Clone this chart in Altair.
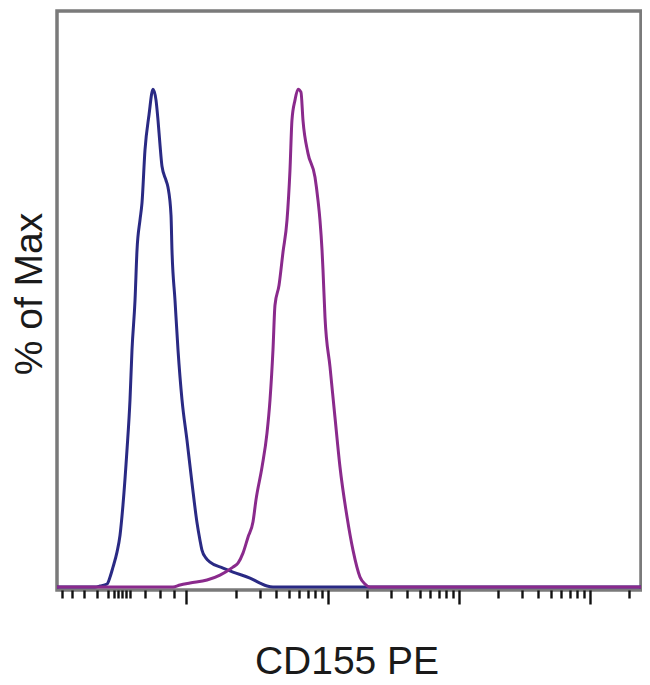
import altair as alt
import pandas as pd

# Display channel (0-1024) and % of Max
blue_x = [0, 66.6, 75.4, 87.7, 93.0, 98.2, 105.2, 110.5, 115.7, 122.7,
          128.0, 131.5, 136.8, 140.3, 145.5, 149.0, 154.3, 161.3, 168.3, 173.6,
          177.1, 180.6, 184.1, 191.1, 194.6, 199.9, 201.6, 206.9, 212.2, 219.2,
          227.9, 236.7, 245.5, 250.7, 254.2, 261.3, 268.3, 291.1, 308.6, 338.4,
          355.9, 368.2, 378.7, 1024]
blue_y = [0, 0, 0.2, 0.6, 2.0, 4.0, 7.0, 10.4, 16.5, 27.5,
          37.6, 47.6, 57.6, 67.7, 73.7, 77.1, 87.8, 94.8, 100, 97.8,
          93.8, 88.8, 84.5, 81.7, 80.3, 74.7, 67.7, 57.6, 47.6, 37.6,
          29.5, 20.9, 12.9, 9.4, 7.4, 5.8, 5.0, 3.8, 3.0, 1.8,
          0.8, 0.2, 0, 0]

mag_x = [0, 203.4, 215.7, 233.2, 263.0, 285.8, 308.6, 317.4, 326.1, 334.9,
         343.7, 348.9, 359.5, 368.2, 373.5, 378.7, 382.2, 389.3, 396.3, 403.3,
         408.5, 412.0, 417.3, 422.6, 427.8, 431.3, 440.1, 452.4, 457.6, 461.1,
         464.7, 466.4, 469.9, 478.7, 487.4, 496.2, 508.5, 519.0, 531.3, 540.0,
         548.8, 1024]
mag_y = [0, 0, 0.4, 0.8, 1.4, 2.4, 4.0, 4.8, 6.8, 10.0,
         13.1, 17.5, 24.1, 30.9, 37.6, 47.6, 56.6, 60.6, 67.3, 73.7,
         83.7, 93.8, 97.8, 100, 99.4, 93.8, 87.1, 82.3, 77.7, 73.7,
         67.7, 63.7, 54.2, 44.2, 34.1, 24.1, 14.1, 7.4, 2.0, 0.6,
         0, 0]

# Axis tick positions (display channel units), no labels
major_ticks = [226.2, 475.2, 704.9, 934.6]
minor_ticks = [8.8, 26.3, 47.3, 70.1, 89.4, 99.9, 106.9, 114.0, 121.0, 128.0,
               154.3, 180.6, 205.1,
               314.6, 355.1, 383.8, 406.1, 424.3, 439.6, 452.9, 464.7,
               544.3, 584.8, 613.5, 635.8, 654.0, 669.3, 682.6, 694.4,
               774.0, 814.5, 843.2, 865.5, 883.7, 899.0, 912.3, 924.0,
               1003.6]
all_ticks = sorted(major_ticks + minor_ticks)

df = pd.concat([
    pd.DataFrame({"x": blue_x, "y": blue_y, "series": "blue"}),
    pd.DataFrame({"x": mag_x, "y": mag_y, "series": "magenta"}),
])

major_test = "indexof([" + ",".join(str(v) for v in major_ticks) + "], datum.value) >= 0"

x_enc = alt.X(
    "x:Q",
    scale=alt.Scale(domain=[0, 1024], nice=False, zero=False),
    axis=alt.Axis(
        title="CD155 PE",
        values=all_ticks,
        labels=False,
        domain=False,
        grid=False,
        ticks=True,
        tickColor="#111111",
        tickWidth=2.4,
        tickSize={"condition": {"test": major_test, "value": 14}, "value": 8},
        titleFont="Liberation Sans",
        titleFontSize=39,
        titleFontWeight="normal",
        titleColor="#1a1a1a",
        titleX=289.5,
        titleY=83,
        titleAlign="center",
        titleBaseline="alphabetic",
    ),
)
y_enc = alt.Y(
    "y:Q",
    scale=alt.Scale(domain=[-0.6, 115.7], nice=False, zero=False),
    axis=alt.Axis(
        title="% of Max",
        labels=False,
        ticks=False,
        domain=False,
        grid=False,
        titleFont="Liberation Sans",
        titleFontSize=39,
        titleFontWeight="normal",
        titleColor="#1a1a1a",
        titleX=-16,
        titleY=282.5,
        titleAngle=270,
        titleAlign="center",
        titleBaseline="alphabetic",
    ),
)

base = alt.Chart(df).encode(x=x_enc, y=y_enc)

blue = base.transform_filter(alt.datum.series == "blue").mark_line(
    color="#2a2a84", strokeWidth=3, interpolate="monotone"
)
magenta = base.transform_filter(alt.datum.series == "magenta").mark_line(
    color="#8a2a8c", strokeWidth=3, interpolate="monotone"
)

frame = alt.ViewBackground(stroke="#7a7a7a", strokeWidth=3.5, strokeOpacity=1, fill="white")

chart = (
    alt.layer(blue, magenta)
    .properties(
        width=584,
        height=579,
        view=frame,
        autosize=alt.AutoSizeParams(type="none"),
        padding={"left": 49, "top": 3, "right": 1, "bottom": 90},
    )
    .configure_view(stroke="#7a7a7a", strokeWidth=3.5, strokeOpacity=1)
    .configure(background="white")
)

chart.save("out.html", embed_options={"renderer": "svg", "actions": False})
